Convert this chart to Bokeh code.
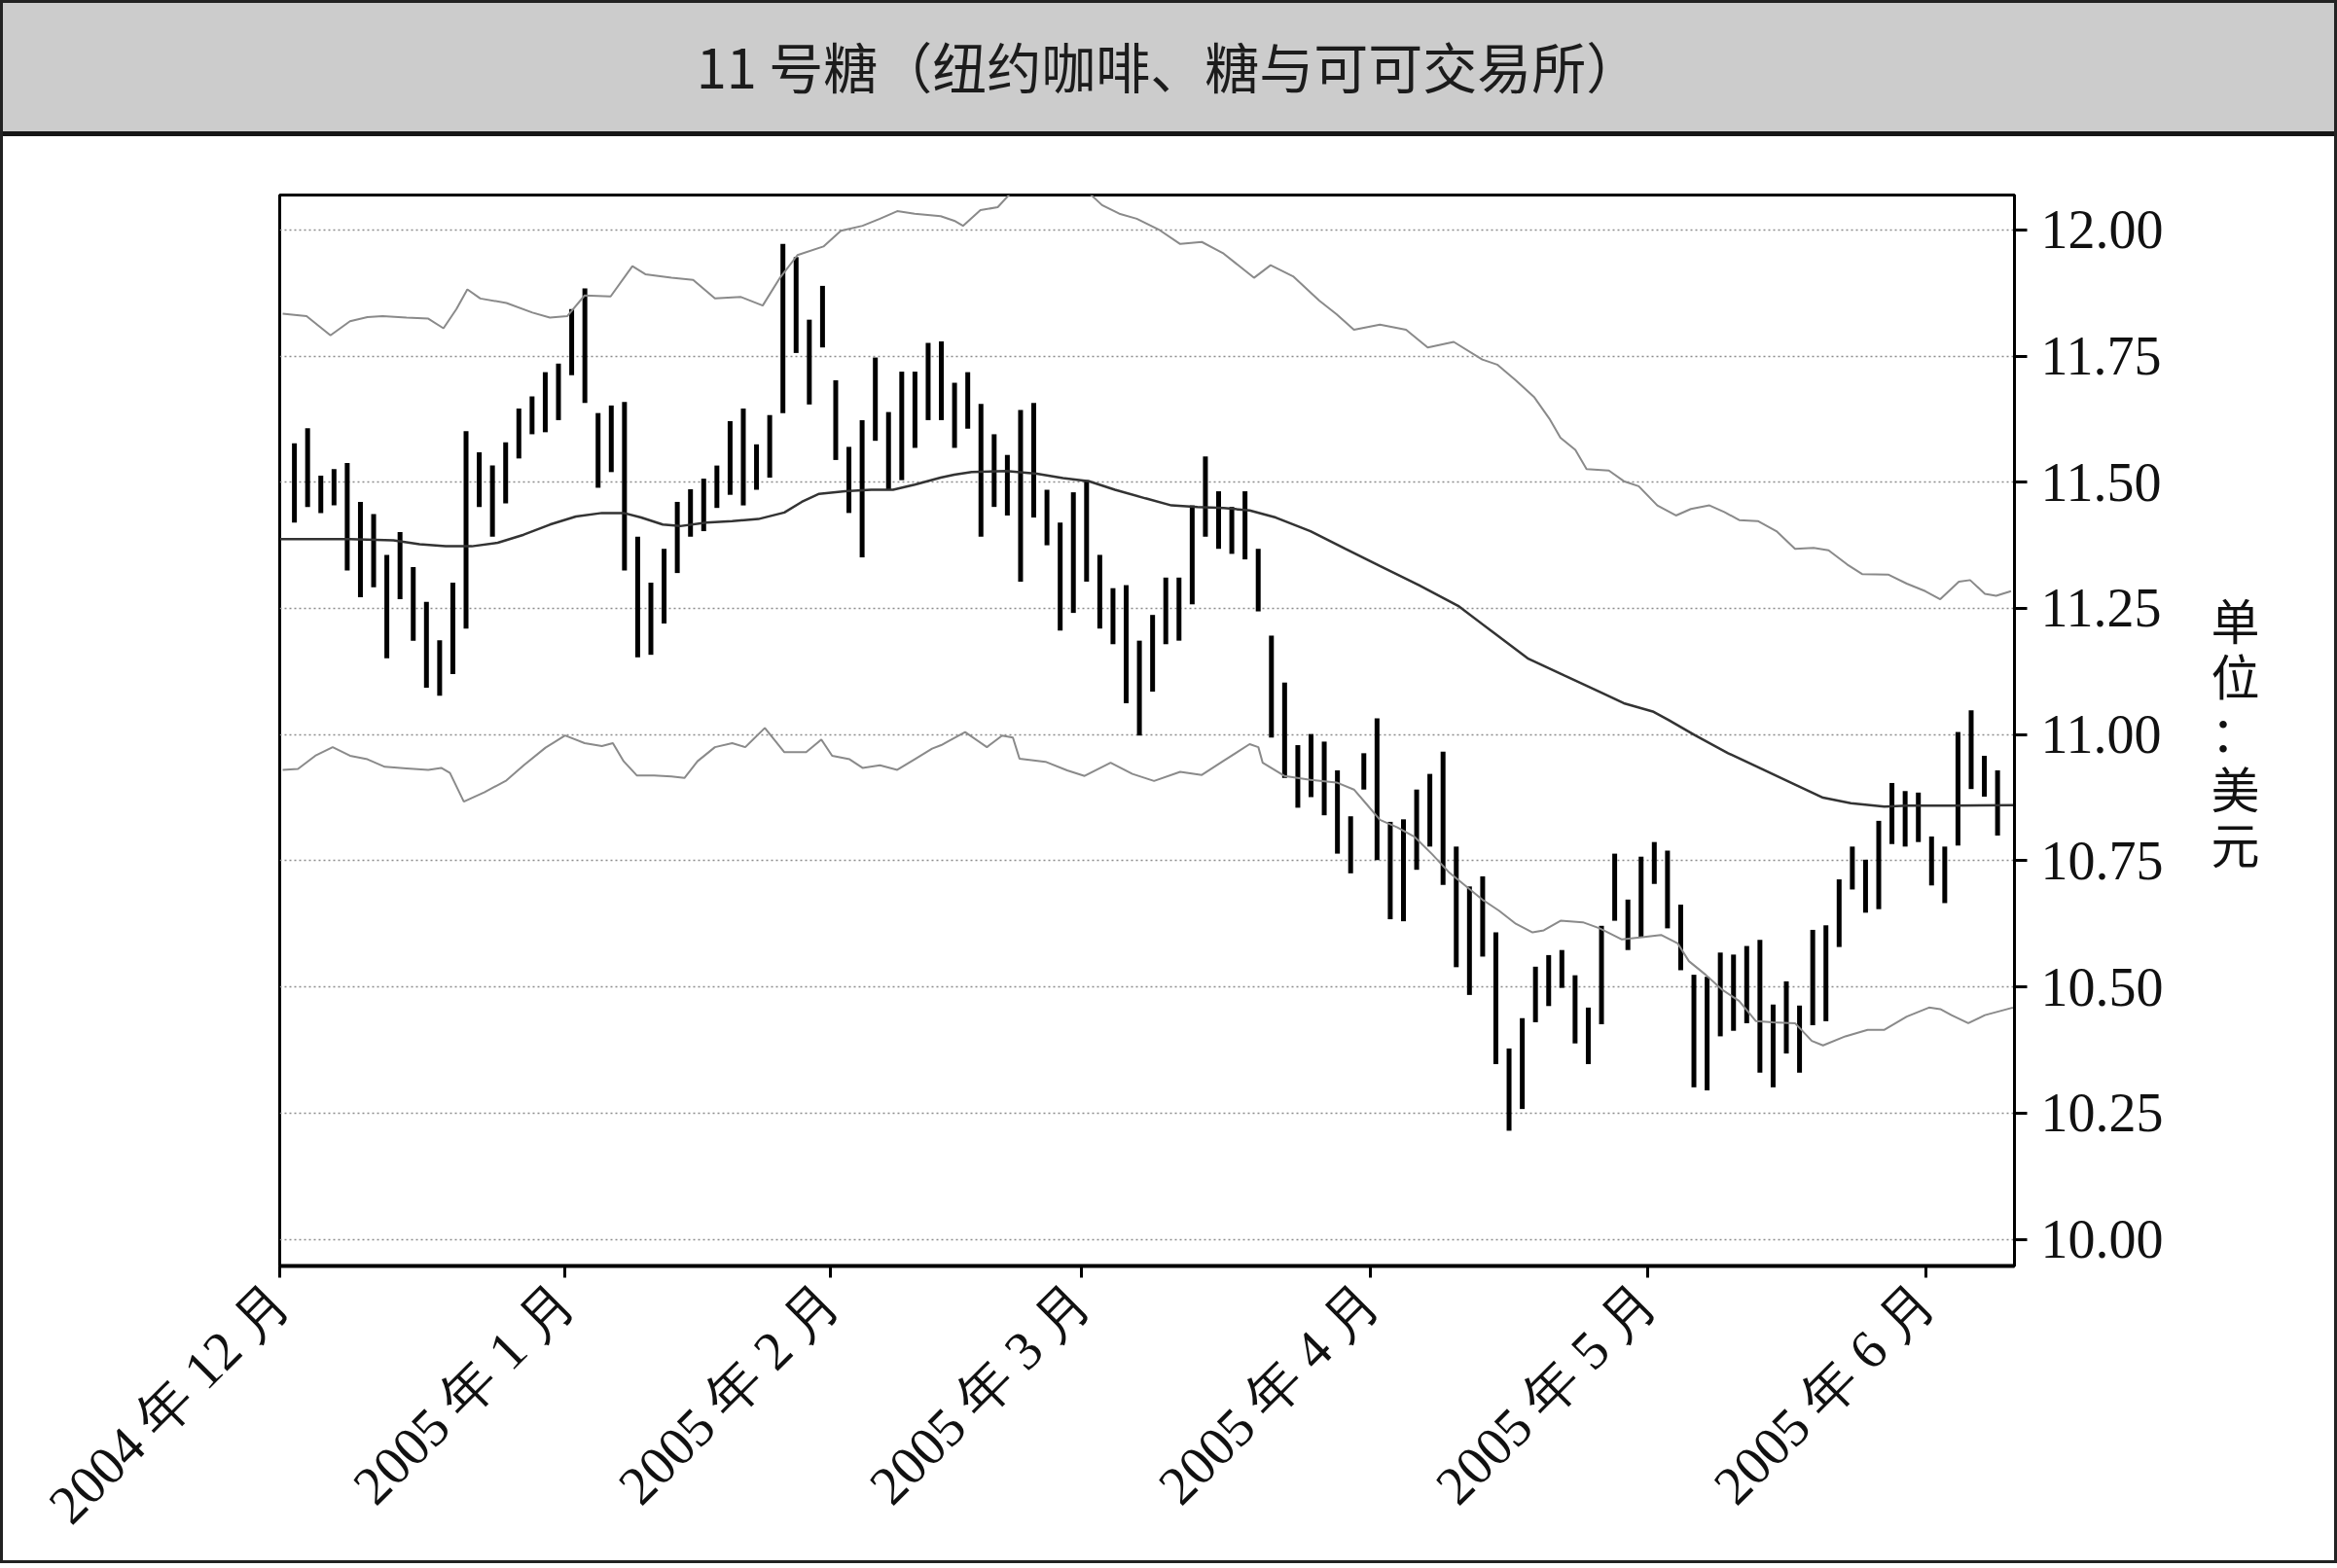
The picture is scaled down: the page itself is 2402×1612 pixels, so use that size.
import math
from bokeh.plotting import figure
from bokeh.layouts import column
from bokeh.models import FixedTicker, ColumnDataSource, Range1d, NumeralTickFormatter, Div
from bokeh.embed import file_html
from bokeh.resources import INLINE

# ---------------- data ----------------
title_text = "11 号糖（纽约咖啡、糖与可可交易所）"
y_unit_text = "单\n位\n：\n美\n元"

month_ticks = [-0.1, 21.5, 41.6, 60.6, 82.5, 103.5, 124.55]
month_labels = ["2004 年 12 月", "2005 年 1 月", "2005 年 2 月", "2005 年 3 月",
                "2005 年 4 月", "2005 年 5 月", "2005 年 6 月"]
price_ticks = [10.00, 10.25, 10.50, 10.75, 11.00, 11.25, 11.50, 11.75, 12.00]

# daily high / low of the bars (one bar per trading day)
bar_high = [11.577, 11.607, 11.513, 11.526, 11.538, 11.461, 11.437, 11.356, 11.401, 11.332,
            11.263, 11.187, 11.301, 11.601, 11.559, 11.533, 11.579, 11.646, 11.670, 11.718,
            11.735, 11.843, 11.884, 11.637, 11.652, 11.659, 11.392, 11.301, 11.368, 11.461,
            11.486, 11.507, 11.533, 11.621, 11.646, 11.575, 11.633, 11.972, 11.946, 11.822,
            11.889, 11.702, 11.570, 11.623, 11.747, 11.639, 11.719, 11.719, 11.776, 11.779,
            11.697, 11.718, 11.655, 11.595, 11.554, 11.643, 11.657, 11.485, 11.420, 11.480,
            11.504, 11.356, 11.290, 11.296, 11.186, 11.237, 11.311, 11.311, 11.454, 11.551,
            11.482, 11.451, 11.482, 11.368, 11.196, 11.103, 10.979, 11.001, 10.986, 10.929,
            10.838, 10.963, 11.032, 10.827, 10.832, 10.891, 10.922, 10.966, 10.778, 10.699,
            10.719, 10.608, 10.378, 10.438, 10.540, 10.563, 10.573, 10.523, 10.459, 10.621,
            10.764, 10.673, 10.758, 10.787, 10.770, 10.663, 10.524, 10.520, 10.568, 10.564,
            10.581, 10.593, 10.465, 10.511, 10.463, 10.613, 10.622, 10.713, 10.778, 10.752,
            10.829, 10.904, 10.888, 10.885, 10.798, 10.778, 11.005, 11.048, 10.958, 10.929]
bar_low = [11.420, 11.451, 11.439, 11.454, 11.325, 11.272, 11.292, 11.151, 11.268, 11.186,
           11.093, 11.077, 11.120, 11.210, 11.451, 11.392, 11.458, 11.547, 11.595, 11.599,
           11.623, 11.712, 11.657, 11.489, 11.520, 11.325, 11.153, 11.158, 11.220, 11.320,
           11.392, 11.403, 11.449, 11.475, 11.454, 11.485, 11.509, 11.637, 11.756, 11.654,
           11.767, 11.544, 11.439, 11.351, 11.582, 11.485, 11.504, 11.568, 11.623, 11.623,
           11.568, 11.606, 11.392, 11.451, 11.434, 11.303, 11.430, 11.375, 11.206, 11.241,
           11.303, 11.210, 11.179, 11.062, 10.998, 11.085, 11.179, 11.186, 11.258, 11.392,
           11.368, 11.358, 11.347, 11.244, 10.994, 10.914, 10.855, 10.876, 10.840, 10.764,
           10.725, 10.891, 10.751, 10.634, 10.630, 10.732, 10.778, 10.702, 10.539, 10.484,
           10.560, 10.347, 10.215, 10.258, 10.430, 10.462, 10.498, 10.388, 10.347, 10.426,
           10.631, 10.573, 10.599, 10.704, 10.616, 10.533, 10.301, 10.295, 10.402, 10.413,
           10.428, 10.330, 10.301, 10.368, 10.330, 10.424, 10.432, 10.579, 10.693, 10.647,
           10.654, 10.783, 10.778, 10.787, 10.701, 10.666, 10.780, 10.892, 10.877, 10.800]
bar_day = list(range(1, len(bar_high) + 1))

# moving average (day index, price)
ma_points = [(-0.11, 11.387), (5.21, 11.387), (8.50, 11.385), (10.48, 11.377), (12.45, 11.373),
             (14.43, 11.373), (16.40, 11.380), (18.37, 11.396), (20.35, 11.416), (22.32, 11.432),
             (24.29, 11.439), (25.94, 11.439), (27.26, 11.430), (28.90, 11.416), (30.22, 11.413),
             (32.19, 11.420), (34.16, 11.423), (36.14, 11.427), (38.11, 11.440), (39.43, 11.461),
             (40.74, 11.477), (42.72, 11.482), (44.69, 11.485), (46.34, 11.485), (47.98, 11.495),
             (49.95, 11.509), (50.98, 11.515), (52.30, 11.520), (54.93, 11.522), (57.23, 11.517),
             (59.21, 11.508), (61.18, 11.502), (63.15, 11.485), (65.46, 11.468), (67.43, 11.454),
             (69.40, 11.451), (71.38, 11.449), (73.35, 11.444), (75.33, 11.430), (77.96, 11.403),
             (80.59, 11.368), (83.22, 11.334), (86.18, 11.296), (89.14, 11.255), (91.77, 11.203),
             (94.41, 11.151), (97.18, 11.117), (100.0, 11.083), (101.69, 11.062), (103.95, 11.045),
             (105.07, 11.029), (107.05, 10.999), (109.59, 10.963), (112.12, 10.932), (114.66, 10.901),
             (116.78, 10.875), (118.89, 10.864), (121.43, 10.857), (123.12, 10.859), (126.51, 10.859),
             (131.28, 10.860)]

# upper band (day index, price)
upper_points = [(0.11, 11.834), (1.92, 11.829), (3.73, 11.791), (5.21, 11.819), (6.53, 11.827),
                (7.68, 11.829), (9.49, 11.826), (11.14, 11.824), (12.29, 11.805), (13.27, 11.843),
                (14.10, 11.882), (15.08, 11.864), (17.06, 11.855), (19.03, 11.836), (20.35, 11.826),
                (21.66, 11.829), (22.98, 11.870), (24.95, 11.868), (26.60, 11.928), (27.58, 11.912),
                (29.56, 11.905), (31.20, 11.901), (32.85, 11.864), (34.82, 11.867), (36.47, 11.850),
                (37.78, 11.905), (39.10, 11.950), (41.07, 11.967), (42.39, 11.998), (44.03, 12.008),
                (45.35, 12.022), (46.66, 12.037), (47.98, 12.032), (49.95, 12.027), (50.98, 12.018),
                (51.64, 12.008), (52.96, 12.039), (54.27, 12.045), (55.5, 12.08), (58.0, 12.10),
                (60.5, 12.09), (62.17, 12.049), (63.48, 12.032), (64.80, 12.022), (66.44, 12.001),
                (68.09, 11.972), (69.73, 11.976), (71.38, 11.953), (73.68, 11.905), (74.94, 11.930),
                (76.64, 11.908), (78.62, 11.860), (79.93, 11.833), (81.25, 11.802), (83.22, 11.812),
                (85.20, 11.802), (86.84, 11.767), (88.81, 11.778), (90.97, 11.743), (92.10, 11.733),
                (93.51, 11.702), (94.92, 11.668), (96.05, 11.626), (96.89, 11.588), (98.02, 11.564),
                (98.87, 11.526), (100.56, 11.523), (101.69, 11.502), (102.82, 11.492), (104.23, 11.454),
                (105.64, 11.434), (106.77, 11.447), (108.18, 11.454), (109.30, 11.441), (110.43, 11.425),
                (111.84, 11.423), (113.25, 11.403), (114.66, 11.368), (116.07, 11.370), (117.20, 11.365),
                (118.61, 11.337), (119.74, 11.318), (121.71, 11.317), (123.12, 11.299), (124.53, 11.284),
                (125.66, 11.268), (127.07, 11.303), (127.92, 11.306), (129.04, 11.279), (129.89, 11.275),
                (131.02, 11.284)]

# lower band (day index, price)
lower_points = [(0.11, 10.930), (1.27, 10.932), (2.58, 10.958), (3.90, 10.975), (5.21, 10.958),
                (6.53, 10.951), (7.85, 10.936), (9.49, 10.933), (11.14, 10.930), (12.12, 10.934),
                (12.78, 10.924), (13.83, 10.867), (15.41, 10.886), (17.06, 10.909), (18.37, 10.939),
                (20.02, 10.974), (21.50, 10.998), (22.98, 10.983), (24.29, 10.977), (25.12, 10.983),
                (25.94, 10.947), (26.93, 10.919), (28.24, 10.919), (29.56, 10.917), (30.54, 10.914),
                (31.53, 10.947), (32.85, 10.975), (34.16, 10.983), (35.15, 10.975), (36.63, 11.013),
                (38.11, 10.965), (39.76, 10.965), (40.91, 10.990), (41.73, 10.958), (43.05, 10.951),
                (44.03, 10.934), (45.35, 10.939), (46.66, 10.930), (47.98, 10.951), (49.30, 10.972),
                (49.99, 10.979), (51.80, 11.005), (53.45, 10.975), (54.60, 10.998), (55.42, 10.994),
                (55.92, 10.952), (57.89, 10.946), (59.53, 10.929), (60.85, 10.918), (62.82, 10.944),
                (64.47, 10.922), (66.11, 10.908), (68.09, 10.926), (69.73, 10.920), (71.38, 10.948),
                (73.35, 10.981), (74.01, 10.975), (74.34, 10.944), (75.98, 10.918), (77.96, 10.910),
                (79.93, 10.905), (81.25, 10.891), (82.24, 10.861), (83.22, 10.831), (84.54, 10.816),
                (85.85, 10.797), (87.17, 10.763), (88.49, 10.726), (89.80, 10.698), (90.97, 10.673),
                (92.24, 10.651), (93.51, 10.625), (94.78, 10.608), (95.63, 10.612), (96.90, 10.631),
                (98.59, 10.628), (99.86, 10.616), (101.55, 10.594), (103.24, 10.599), (104.51, 10.603),
                (105.78, 10.586), (106.62, 10.551), (107.89, 10.524), (109.16, 10.494), (110.43, 10.472),
                (111.70, 10.432), (112.97, 10.430), (114.66, 10.428), (115.93, 10.393), (116.78, 10.384),
                (118.47, 10.402), (120.16, 10.415), (121.43, 10.415), (123.12, 10.441), (124.81, 10.459),
                (125.66, 10.456), (126.51, 10.444), (127.78, 10.428), (129.04, 10.444), (131.16, 10.459)]

# ---------------- layout constants ----------------
W = 2396                 # inner width (3px css border each side)
HEADER_H = 137           # grey band + dark rule
RULE_H = 5
MAIN_H = 1464
BL, BR, BT, BB = 284, 329, 60, 303

# ---------------- header (grey band with title) ----------------
header_html = (
    '<div style="box-sizing:border-box; width:%dpx; height:%dpx; margin:0; '
    'background:#cccccc; border-bottom:%dpx solid #161616; padding-bottom:4px; '
    'display:flex; align-items:center; justify-content:center; '
    'font-family:\'Noto Sans CJK SC\', sans-serif; font-size:56px; color:#1c1c1c; '
    'white-space:nowrap;">%s</div>' % (W, HEADER_H, RULE_H, title_text)
)
header = Div(text=header_html, width=W, height=HEADER_H, margin=0)

# ---------------- main chart ----------------
p = figure(width=W, height=MAIN_H,
           x_range=Range1d(-0.113, 131.28), y_range=Range1d(9.947, 12.069),
           y_axis_location="right", output_backend="svg", toolbar_location=None,
           min_border_left=BL, min_border_right=BR, min_border_top=BT, min_border_bottom=BB)
p.background_fill_color = "white"
p.border_fill_color = "white"
p.outline_line_color = "black"
p.outline_line_width = 3

p.xgrid.grid_line_color = None
p.ygrid.grid_line_color = "#8c8c8c"
p.ygrid.grid_line_dash = "2 3"
p.ygrid.grid_line_width = 1.5

xa = p.xaxis[0]
xa.ticker = FixedTicker(ticks=month_ticks)
xa.major_label_overrides = {t: lab for t, lab in zip(month_ticks, month_labels)}
xa.major_label_orientation = math.pi / 4
xa.major_label_text_font = "Liberation Serif"
xa.major_label_text_font_size = "56px"
xa.major_label_text_color = "#111111"
xa.major_label_standoff = 15
xa.major_tick_out = 12
xa.major_tick_in = 0
xa.major_tick_line_width = 3
xa.minor_tick_line_color = None
xa.axis_line_width = 4
xa.axis_line_color = "black"

ya = p.yaxis[0]
ya.ticker = FixedTicker(ticks=price_ticks)
ya.formatter = NumeralTickFormatter(format="0.00")
ya.major_label_text_font = "Liberation Serif"
ya.major_label_text_font_size = "56px"
ya.major_label_text_color = "#111111"
ya.major_label_standoff = 14
ya.major_tick_out = 13
ya.major_tick_in = 0
ya.major_tick_line_width = 3
ya.minor_tick_line_color = None
ya.axis_line_width = 3
ya.axis_line_color = "black"
ya.axis_label = y_unit_text
ya.axis_label_orientation = "horizontal"
ya.axis_label_text_font = "Noto Sans CJK SC"
ya.axis_label_text_font_style = "normal"
ya.axis_label_text_font_size = "50px"
ya.axis_label_text_line_height = 0.8
ya.axis_label_text_color = "#111111"
ya.axis_label_standoff = 46

bars = ColumnDataSource(dict(day=bar_day, high=bar_high, low=bar_low))
p.segment(x0="day", y0="low", x1="day", y1="high", source=bars,
          line_color="black", line_width=5)

p.line([d for d, _ in upper_points], [v for _, v in upper_points],
       line_color="#8a8a8a", line_width=2)
p.line([d for d, _ in lower_points], [v for _, v in lower_points],
       line_color="#8a8a8a", line_width=2)
p.line([d for d, _ in ma_points], [v for _, v in ma_points],
       line_color="#333333", line_width=2.5)

layout = column(header, p, spacing=0, styles={"border": "3px solid #222222"})

open("out.html", "w").write(file_html(layout, INLINE))
